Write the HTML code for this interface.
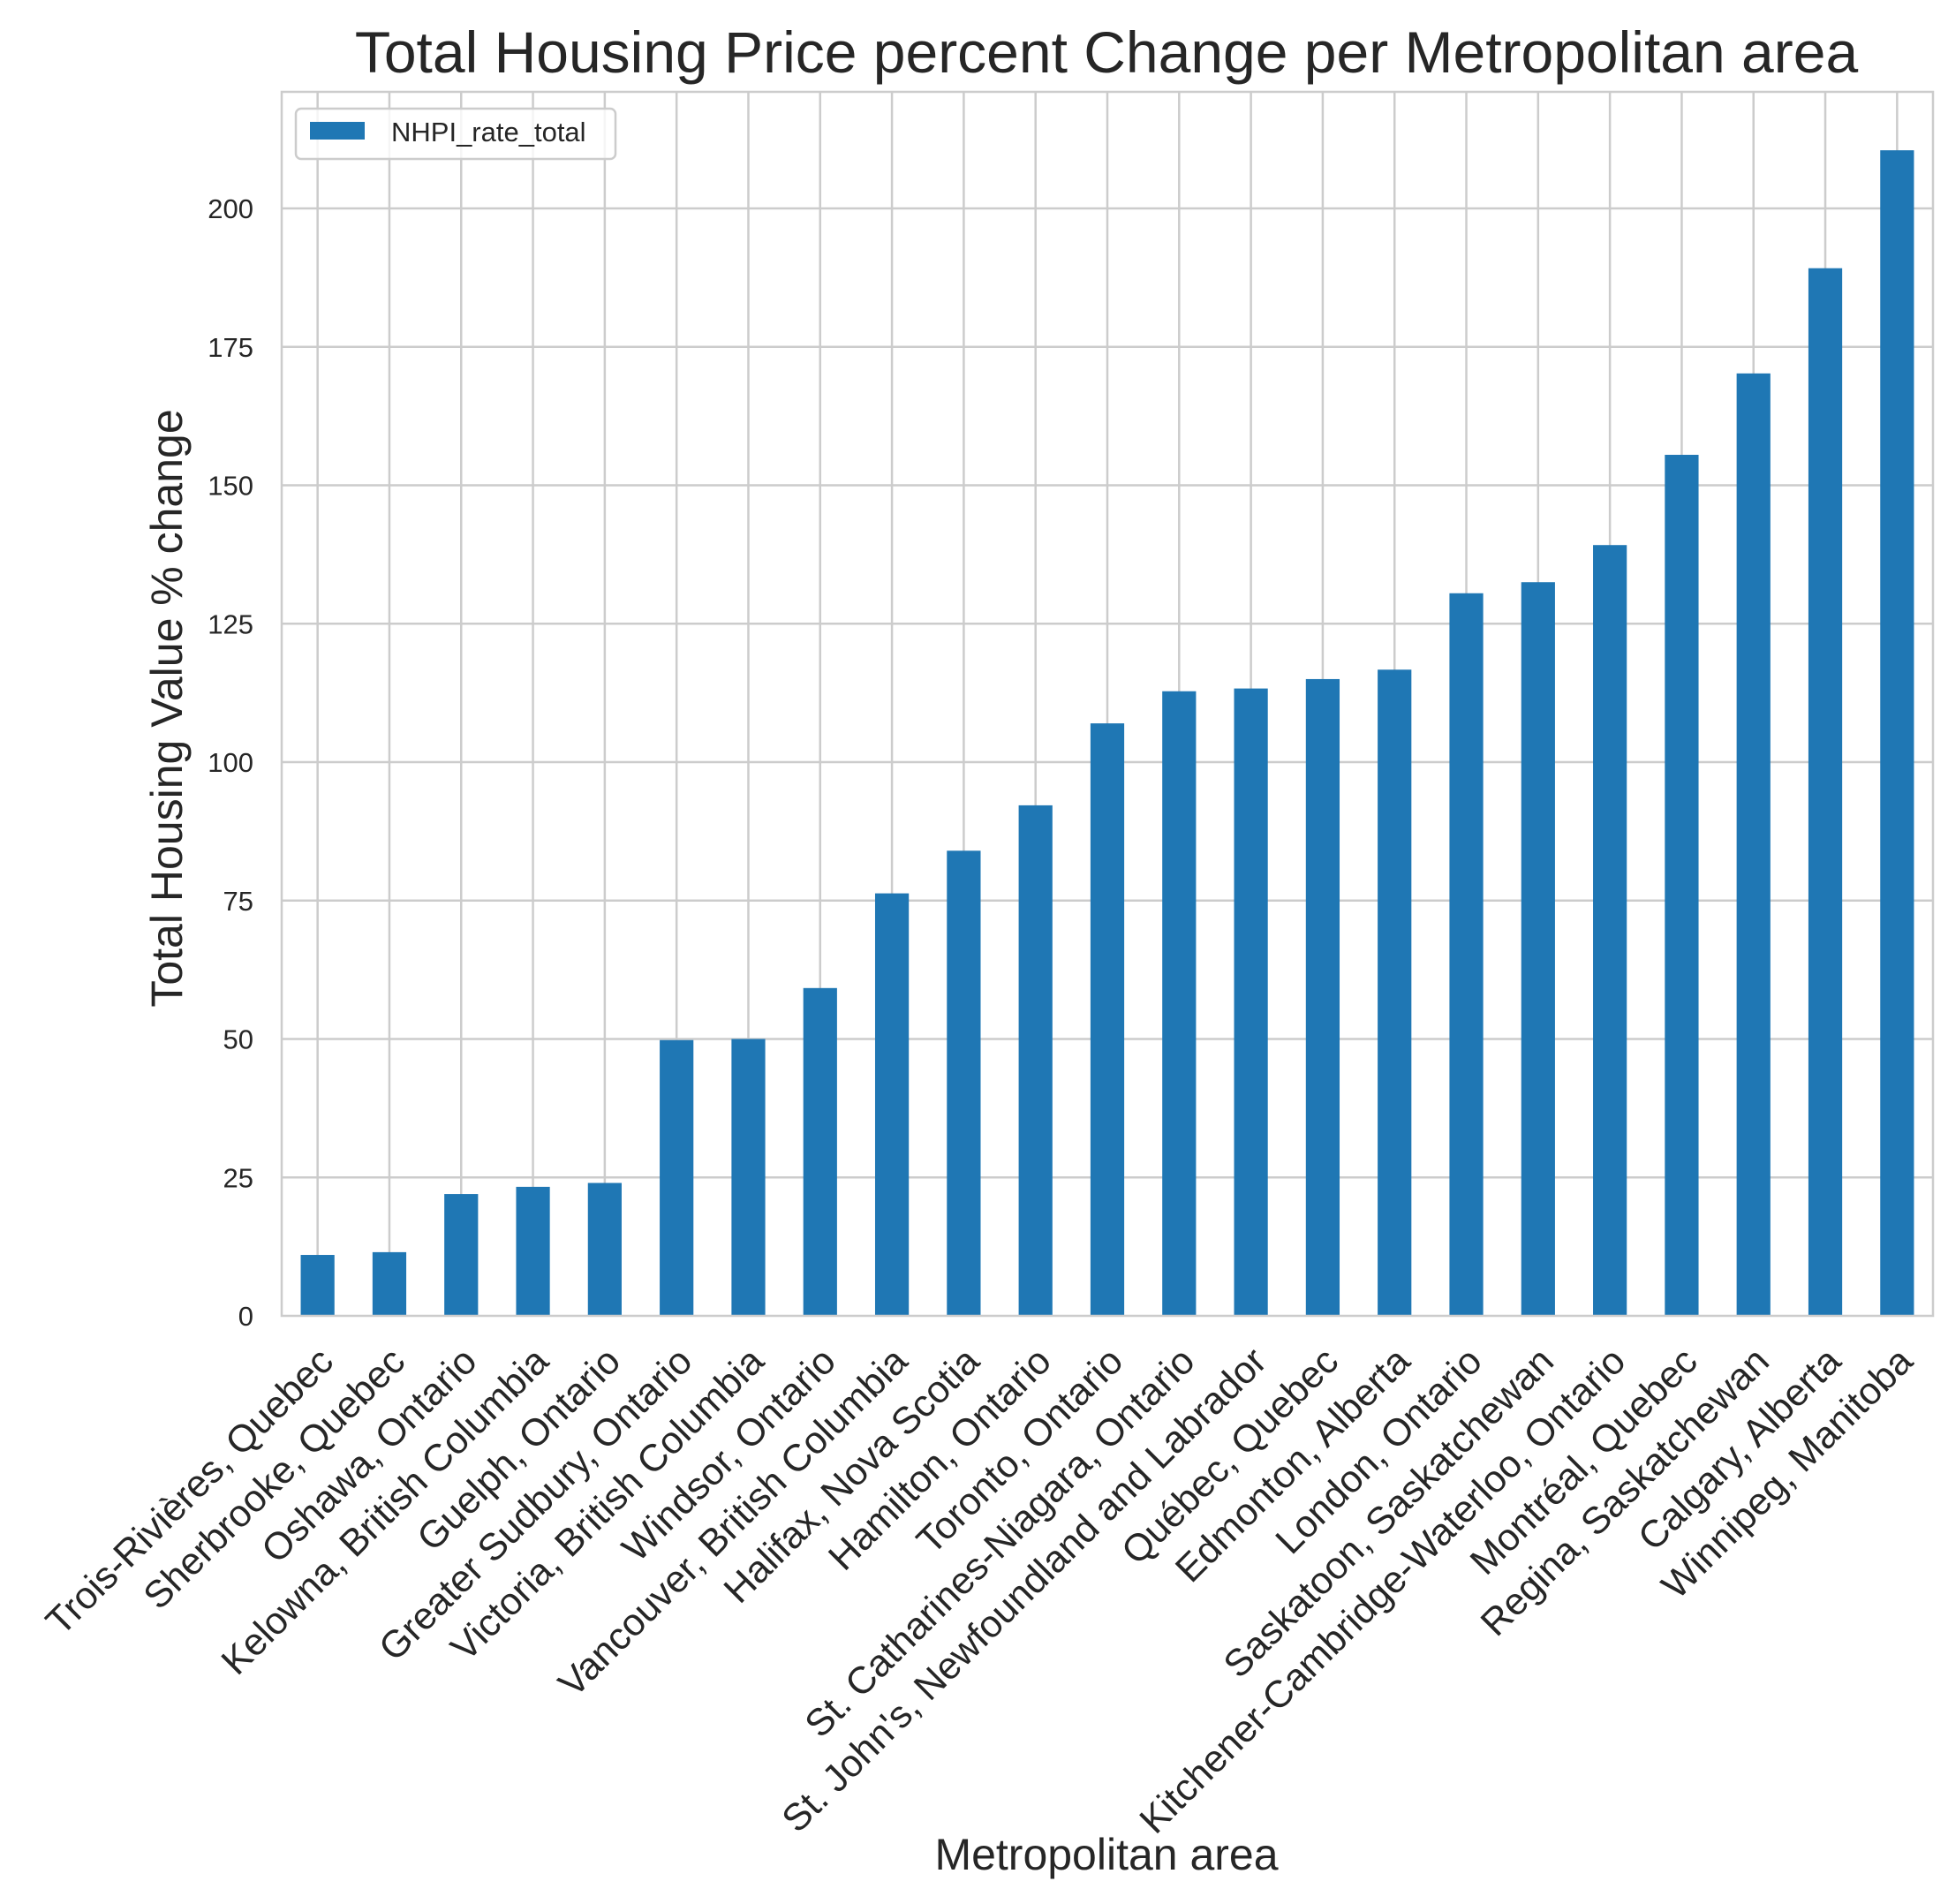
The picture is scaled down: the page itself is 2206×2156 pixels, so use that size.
<!DOCTYPE html>
<html><head><meta charset="utf-8"><style>body{margin:0;background:#fff}svg{display:block}text{font-family:"Liberation Sans",Arial,sans-serif;fill:#262626}</style></head>
<body>
<svg id="chart" width="2206" height="2156" viewBox="0 0 2206 2156" xmlns="http://www.w3.org/2000/svg">
<rect width="2206" height="2156" fill="#fff"/>
<text x="1253" y="82" font-size="66" text-anchor="middle">Total Housing Price percent Change per Metropolitan area</text>
<g id="grid"></g><g id="bars"></g><g id="yticks"></g><g id="xticks"></g>
<rect x="319" y="104" width="1870" height="1386" fill="none" stroke="#cccccc" stroke-width="2.5"/>
<g>
<rect x="335" y="123" width="362" height="57" rx="6" fill="#fff" fill-opacity="0.8" stroke="#cccccc" stroke-width="2.5"/>
<rect x="351" y="138" width="62" height="20" fill="#1f77b4"/>
<text x="443" y="160" font-size="31">NHPI_rate_total</text>
</g>
<text transform="translate(206,802) rotate(-90)" font-size="50" text-anchor="middle">Total Housing Value % change</text>
<text x="1253" y="2117" font-size="50" text-anchor="middle">Metropolitan area</text>
</svg>
<script>
const categories=["Trois-Rivières, Quebec","Sherbrooke, Quebec","Oshawa, Ontario","Kelowna, British Columbia","Guelph, Ontario","Greater Sudbury, Ontario","Victoria, British Columbia","Windsor, Ontario","Vancouver, British Columbia","Halifax, Nova Scotia","Hamilton, Ontario","Toronto, Ontario","St. Catharines-Niagara, Ontario","St. John's, Newfoundland and Labrador","Québec, Quebec","Edmonton, Alberta","London, Ontario","Saskatoon, Saskatchewan","Kitchener-Cambridge-Waterloo, Ontario","Montréal, Quebec","Regina, Saskatchewan","Calgary, Alberta","Winnipeg, Manitoba"];
const values=[11,11.5,22,23.3,24,49.8,50,59.2,76.3,84,92.2,107,112.8,113.3,115,116.7,130.5,132.5,139.2,155.5,170.2,189.2,210.5];
const yTicks=[0,25,50,75,100,125,150,175,200];
const NS="http://www.w3.org/2000/svg";
const L=319,R=2189,T=104,B=1490,step=(R-L)/categories.length;
const xc=i=>L+step*(i+0.5);
const y=v=>B-v*(B-236)/200;
function mk(t,a,p){const e=document.createElementNS(NS,t);for(const k in a)e.setAttribute(k,a[k]);document.getElementById(p).appendChild(e);return e;}
categories.forEach((c,i)=>{
 const g=mk('line',{x1:xc(i),x2:xc(i),y1:T,y2:B,stroke:'#cccccc','stroke-width':2.5},'grid');
 
 
 const b=mk('rect',{x:xc(i)-step*0.235,width:step*0.47,y:y(values[i]),height:B-y(values[i]),fill:'#1f77b4'},'bars');
 
 
 const t=mk('text',{transform:`translate(${xc(i)+20},${B+54}) rotate(-45)`,'text-anchor':'end','font-size':43},'xticks');
 t.textContent=c;
 
 
});
yTicks.forEach(v=>{
 if(v>0){const g=mk('line',{x1:L,x2:R,y1:y(v),y2:y(v),stroke:'#cccccc','stroke-width':2.5},'grid');
 
 }
 const t=mk('text',{x:287,y:y(v)+11,'text-anchor':'end','font-size':31},'yticks');
 t.textContent=v;
 
 
});
</script>
</body></html>
